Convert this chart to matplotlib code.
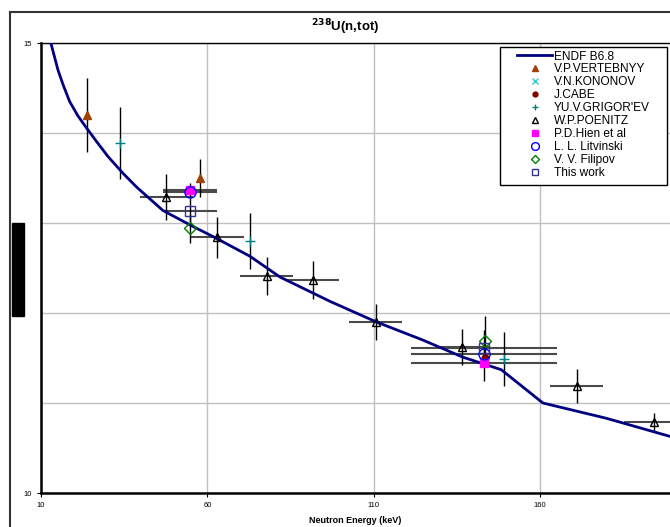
import matplotlib.pyplot as plt
from matplotlib.lines import Line2D
from matplotlib.patches import Rectangle

plt.rcParams['font.family'] = ['Liberation Sans', 'DejaVu Sans']

# ENDF/B-VI.8 evaluated total cross section
endf_e = [12.6, 13.6, 15.1, 16.6, 18.6, 21.1, 23.6, 26.6, 30.1, 34.7, 38.7, 46.6, 54.7, 62.7,
          72.8, 81.8, 96.8, 110.8, 124.7, 136.7, 148.3, 160.8, 179.9, 198.9]
endf_xs = [15.05, 14.91, 14.70, 14.54, 14.35, 14.19, 14.06, 13.91, 13.74, 13.55, 13.40, 13.14,
           12.98, 12.83, 12.63, 12.40, 12.13, 11.90, 11.70, 11.51, 11.37, 11.00, 10.83, 10.63]

# measured points: energy, cross section, energy error, cross section error
vert_e = [23.9, 57.7]
vert_xs = [14.20, 13.50]
vert_dxs = [0.41, 0.21]

kono_e = []
kono_xs = []

cabe_e = [143.3]
cabe_xs = [11.50]

grig_e = [33.7, 72.8, 149.1]
grig_xs = [13.89, 12.80, 11.49]
grig_dxs = [0.40, 0.31, 0.30]

poen_e = [47.7, 62.9, 77.8, 91.6, 110.6, 136.5, 171.0, 194.1]
poen_xs = [13.29, 12.84, 12.41, 12.37, 11.90, 11.62, 11.19, 10.79]
poen_de = [8, 8, 8, 8, 8, 8, 8, 9]
poen_dxs = [0.26, 0.23, 0.21, 0.21, 0.20, 0.20, 0.19, 0.10]

hien_e = [54.8, 143.1]
hien_xs = [13.37, 11.44]
hien_de = [8.2, 22]
hien_dxs = [0.08, 0.20]

litv_e = [54.8, 143.1]
litv_xs = [13.34, 11.54]
litv_de = [8.2, 22]

fili_e = [54.8, 143.3]
fili_xs = [12.94, 11.69]
fili_dxs = [0.16, 0.28]

this_e = [54.8, 143.1]
this_xs = [13.13, 11.61]
this_de = [8.2, 22]
this_dxs = [0.15, 0.20]

fig = plt.figure(figsize=(6.7, 5.27), dpi=100)
ax = fig.add_axes([41 / 670, 34 / 527, 1 - 41 / 670, 450 / 527])

# error bars (horizontal in dark grey, vertical in black)
herr = dict(fmt='none', ecolor='#4a4a4a', elinewidth=1.5, capsize=0, zorder=2)
verr = dict(fmt='none', ecolor='black', elinewidth=1.0, capsize=0, zorder=2)
ax.errorbar(poen_e, poen_xs, xerr=poen_de, **herr)
ax.errorbar(hien_e, hien_xs, xerr=hien_de, **herr)
ax.errorbar(litv_e, litv_xs, xerr=litv_de, **herr)
ax.errorbar(this_e, this_xs, xerr=this_de, **herr)
ax.errorbar(vert_e, vert_xs, yerr=vert_dxs, **verr)
ax.errorbar(grig_e, grig_xs, yerr=grig_dxs, **verr)
ax.errorbar(poen_e, poen_xs, yerr=poen_dxs, **verr)
ax.errorbar(hien_e, hien_xs, yerr=hien_dxs, **verr)
ax.errorbar(fili_e, fili_xs, yerr=fili_dxs, **verr)
ax.errorbar(this_e, this_xs, yerr=this_dxs, **verr)

series = [
    (endf_e, endf_xs, 'ENDF B6.8', dict(color='#000080', lw=2)),
    (vert_e, vert_xs, 'V.P.VERTEBNYY', dict(marker='^', color='#A0400A', ms=6)),
    (kono_e, kono_xs, 'V.N.KONONOV', dict(marker='x', color='#33CCCC', ms=6, mew=1)),
    (cabe_e, cabe_xs, 'J.CABE', dict(marker='o', color='#800000', ms=5)),
    (grig_e, grig_xs, "YU.V.GRIGOR'EV", dict(marker='+', color='#008080', ms=7, mew=1)),
    (poen_e, poen_xs, 'W.P.POENITZ', dict(marker='^', mfc='none', mec='black', ms=6, mew=1)),
    (hien_e, hien_xs, 'P.D.Hien et al', dict(marker='s', color='#FF00FF', ms=6)),
    (litv_e, litv_xs, 'L. L. Litvinski', dict(marker='o', mfc='none', mec='#0000FF', ms=8, mew=1)),
    (fili_e, fili_xs, 'V. V. Filipov', dict(marker='D', mfc='none', mec='#008000', ms=6, mew=1)),
    (this_e, this_xs, 'This work', dict(marker='s', mfc='none', mec='#333399', ms=7, mew=1)),
]

handles = []
for i, (xe, ys, lab, st) in enumerate(series):
    ls = '-' if i == 0 else 'none'
    ax.plot(xe, ys, ls=ls, zorder=3 if i == 0 else 4 + (i >= 7), **st)
    hst = dict(st)
    if 'ms' in hst:
        hst['ms'] = hst['ms'] * 0.7
    handles.append(Line2D([], [], ls=ls, label=lab, **hst))

ax.set_xlim(10, 199)
ax.set_ylim(10, 15)
ax.set_xticks([10, 60, 110, 160])
ax.set_yticks([10, 15])
ax.set_yticks([11, 12, 13, 14], minor=True)
ax.grid(True, which='both', color='#c0c0c0', lw=1)
ax.tick_params(which='major', labelsize=5.5, length=3, width=0.8)
ax.tick_params(which='minor', length=0)
ax.spines['left'].set_linewidth(1.8)
ax.spines['bottom'].set_linewidth(1.8)
ax.spines['top'].set_linewidth(1.0)
ax.spines['right'].set_visible(False)
ax.set_xlabel('Neutron Energy (keV)', fontsize=6.5, fontweight='bold', labelpad=5)

# legend box drawn separately so its padding matches the original
ax.add_patch(Rectangle((459 / 629, 308 / 450), 167 / 629, 138 / 450, transform=ax.transAxes,
                       facecolor='white', edgecolor='black', lw=1.0, zorder=6))
leg = ax.legend(handles=handles, loc='upper left', bbox_to_anchor=(476 / 629, 442.5 / 450),
                borderaxespad=0, borderpad=0, fontsize=8.6, handlelength=2.95,
                labelspacing=0.08, handletextpad=0.15, frameon=False)
leg.set_zorder(7)

fig.text(345 / 670, 1 - 27 / 527, r'$\mathbf{^{238}}$U(n,tot)', ha='center', va='center',
         fontsize=9.5, fontweight='bold')

# outer frame and the blacked-out y label
fig.add_artist(Line2D([10 / 670, 10 / 670], [0, 1 - 12 / 527], color='#333333', lw=1.5))
fig.add_artist(Line2D([10 / 670, 1], [1 - 12 / 527, 1 - 12 / 527], color='#333333', lw=1.5))
fig.add_artist(Rectangle((12 / 670, 211 / 527), 12 / 670, 93 / 527, color='black'))

fig.savefig('out.png', dpi=100)
